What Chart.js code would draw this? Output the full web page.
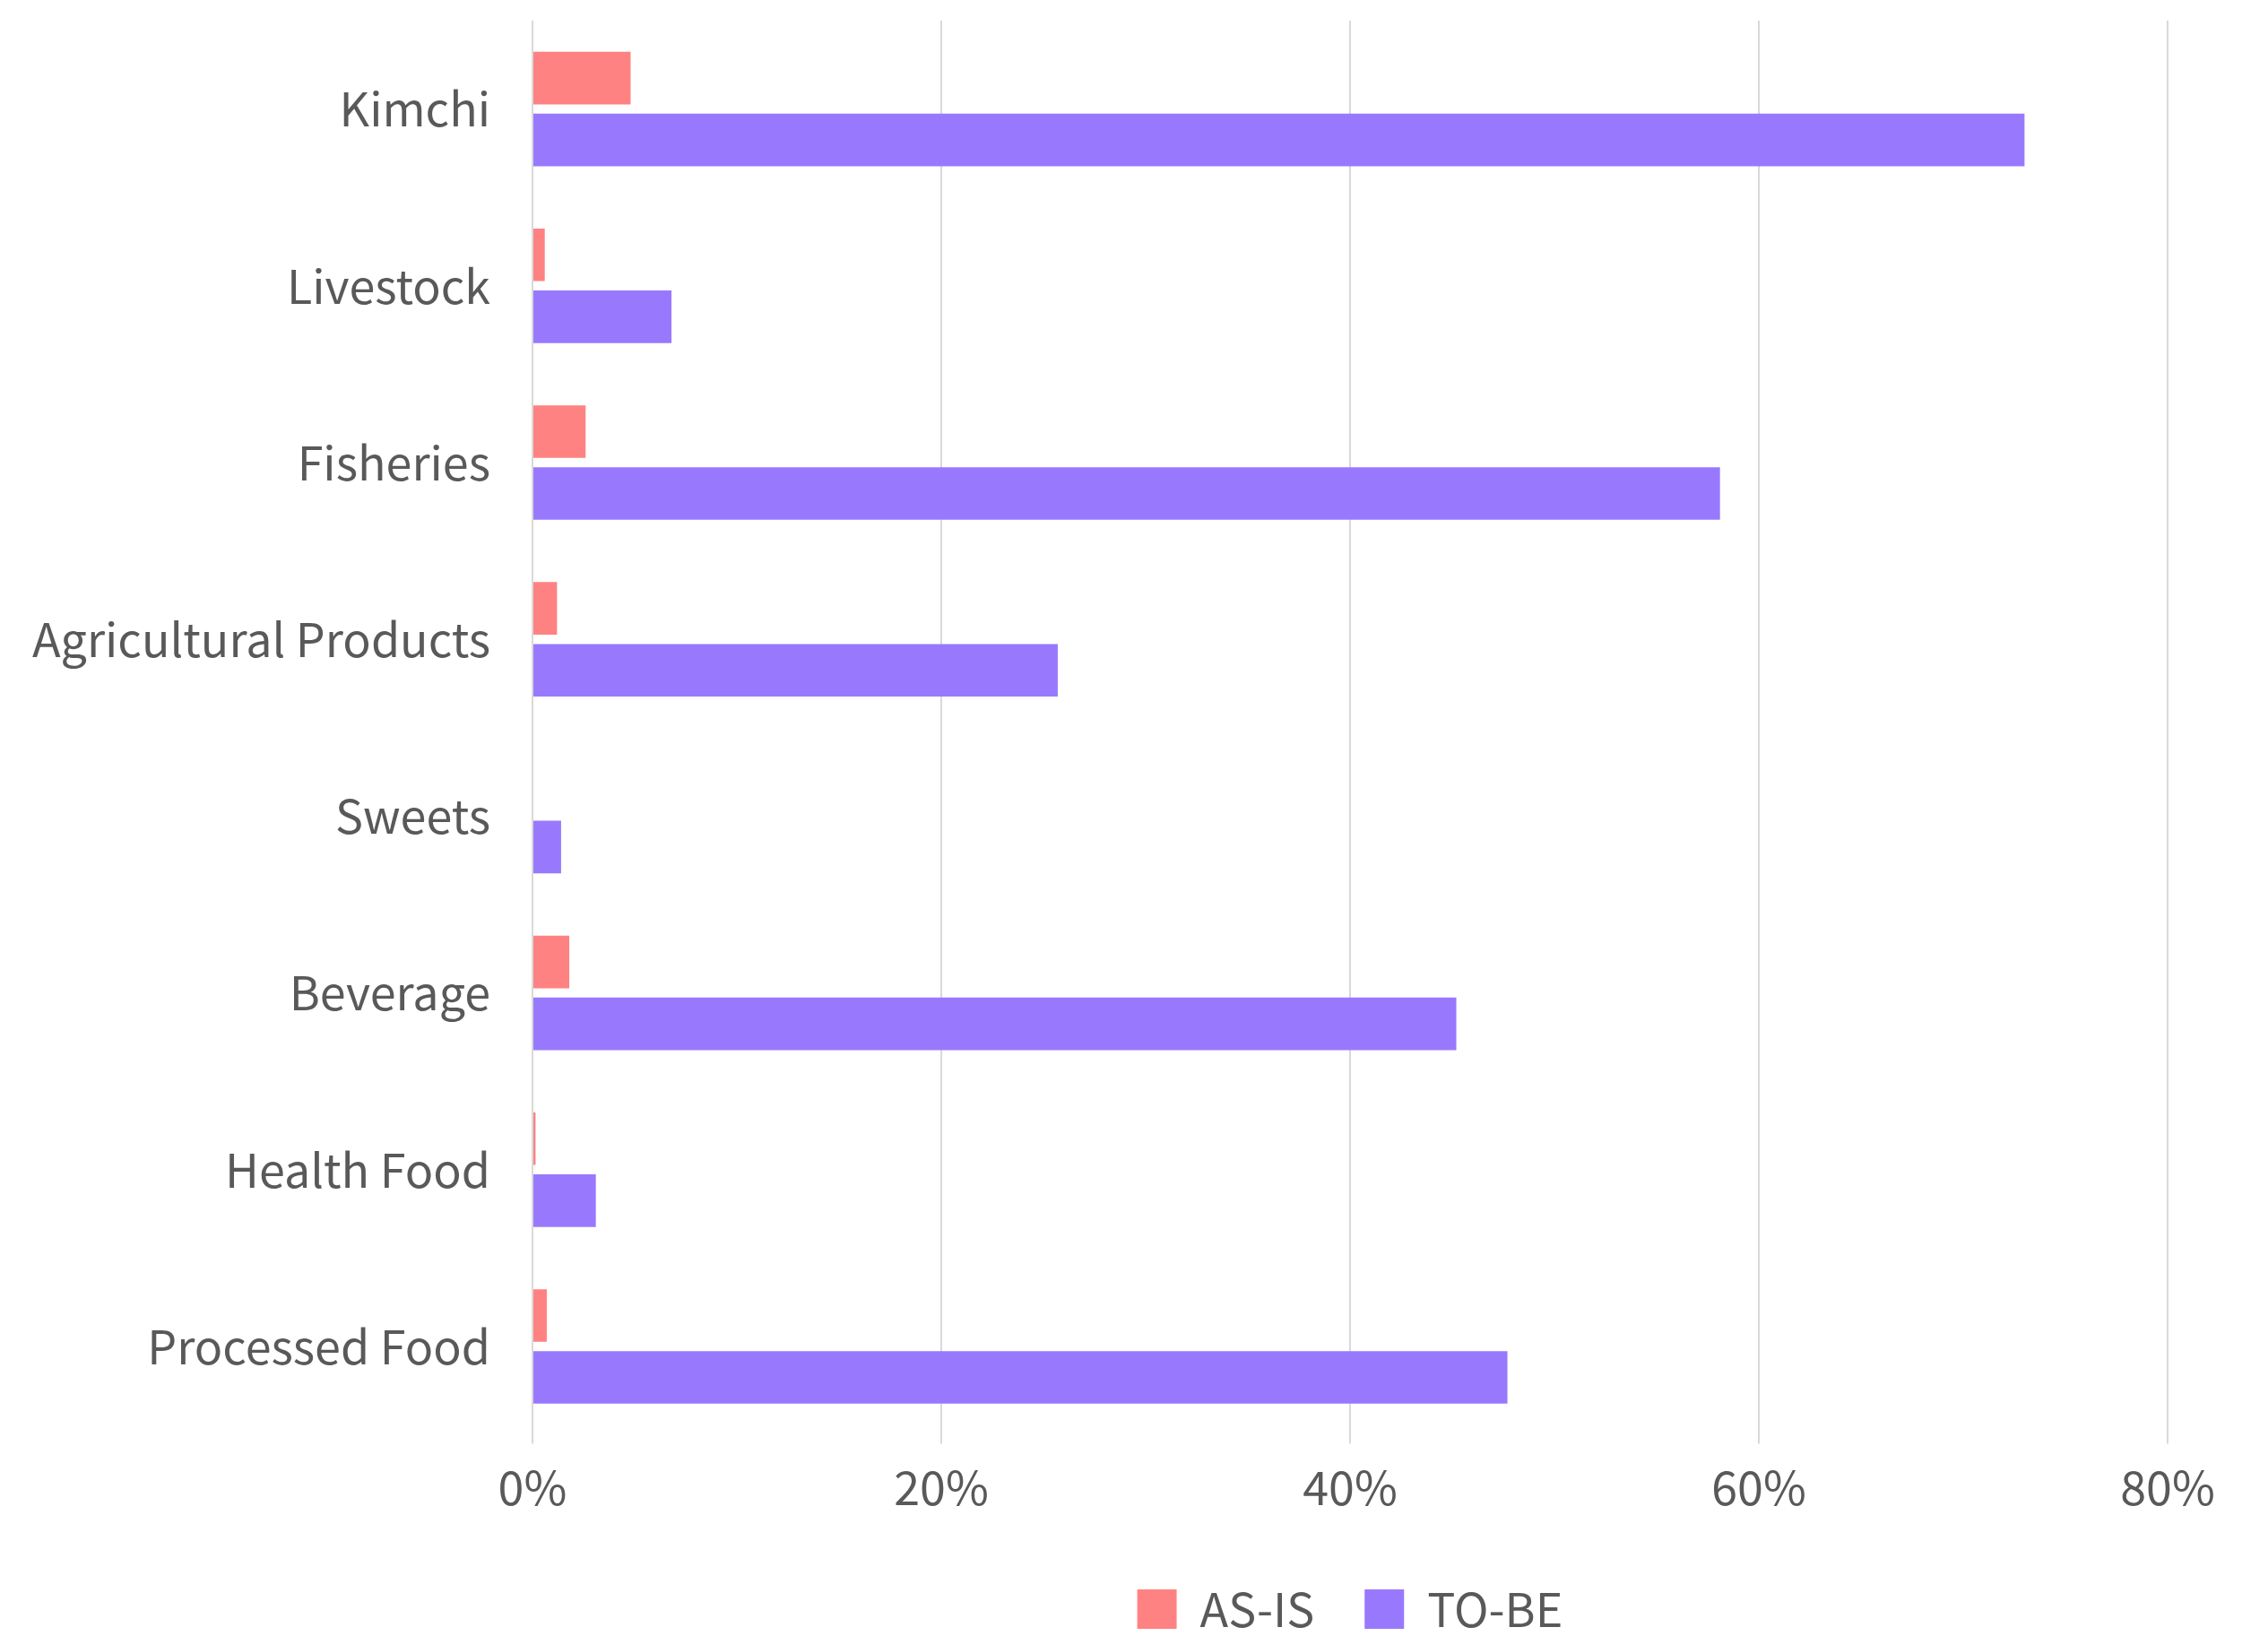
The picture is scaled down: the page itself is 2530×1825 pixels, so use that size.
<!DOCTYPE html>
<html>
<head>
<meta charset="utf-8">
<script src="https://cdn.jsdelivr.net/npm/chart.js@4/dist/chart.umd.min.js"></script>
<style>
	body { margin: 0; background: #ffffff; }
</style>
</head>
<body>
<canvas id="bar-chart" width="2530" height="1825"></canvas>
<script>
var categories = ["Kimchi", "Livestock", "Fisheries", "Agricultural Products", "Sweets", "Beverage", "Health Food", "Processed Food"];
var asIs = [4.8, 0.6, 2.6, 1.2, 0, 1.8, 0.15, 0.7];
var toBe = [73.0, 6.8, 58.1, 25.7, 1.4, 45.2, 3.1, 47.7];
var xTicks = [0, 20, 40, 60, 80];

var textColor = "#595959";
var fontFamily = "'Noto Sans CJK KR', 'Noto Sans', sans-serif";

new Chart(document.getElementById("bar-chart"), {
	type: 'bar',
	data: {
		labels: categories,
		datasets: [
			{
				label: "AS-IS",
				backgroundColor: "#ff8282",
				data: asIs
			},
			{
				label: "TO-BE",
				backgroundColor: "#9879fe",
				data: toBe
			}
		]
	},
	options: {
		indexAxis: 'y',
		responsive: false,
		devicePixelRatio: 1,
		animation: false,
		categoryPercentage: 0.7,
		barPercentage: 0.85,
		layout: {
			padding: { top: 23, right: 112, left: 0, bottom: -6 }
		},
		plugins: {
			legend: {
				position: 'bottom',
				fullSize: false,
				labels: {
					boxWidth: 44,
					boxHeight: 44,
					padding: 56,
					color: textColor,
					font: { family: fontFamily, size: 52 }
				}
			},
			tooltip: { enabled: false }
		},
		scales: {
			x: {
				min: 0,
				max: 80,
				afterBuildTicks: function(axis) {
					axis.ticks = xTicks.map(function(v) { return { value: v }; });
				},
				afterFit: function(axis) { axis.height += 6; },
				grid: {
					color: "#d9d9d9",
					lineWidth: 2,
					tickLength: 10
				},
				border: { display: false },
				ticks: {
					padding: 17,
					color: textColor,
					font: { family: fontFamily, size: 52 },
					callback: function(v) { return v + '%'; }
				}
			},
			y: {
				grid: { display: false },
				border: { display: false },
				afterFit: function(axis) {
					axis.width = 594;
					axis.paddingTop = 0;
					axis.paddingBottom = 0;
				},
				ticks: {
					padding: 39,
					color: textColor,
					font: { family: fontFamily, size: 52 }
				}
			}
		}
	}
});
</script>
</body>
</html>
